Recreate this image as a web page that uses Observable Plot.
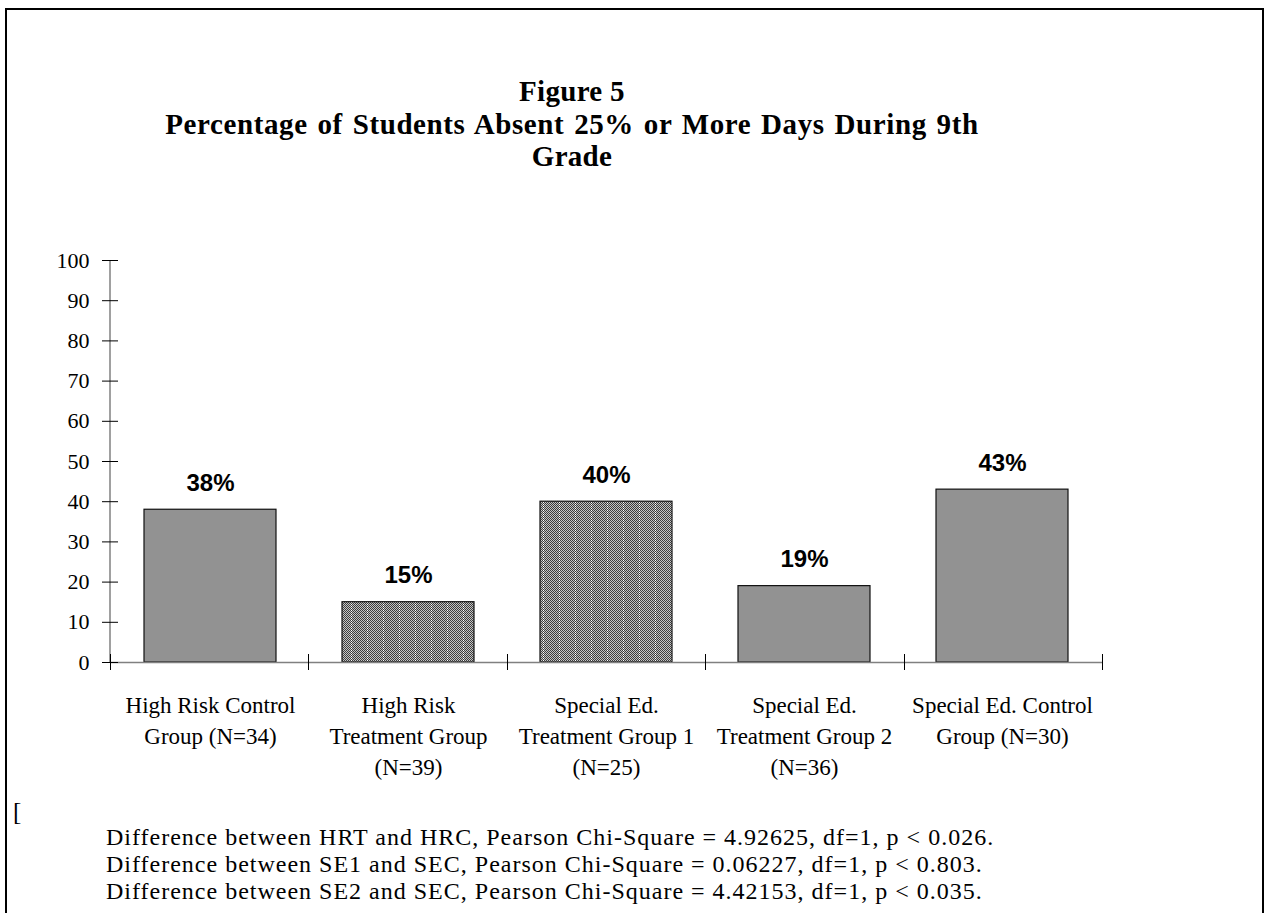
<!DOCTYPE html>
<html>
<head>
<meta charset="utf-8">
<script src="https://cdn.jsdelivr.net/npm/d3@7"></script>
<script src="https://cdn.jsdelivr.net/npm/@observablehq/plot@0.6"></script>
<style>
  html, body { margin: 0; padding: 0; overflow: hidden; background: #fff; }
  #wrap { position: relative; width: 1264px; height: 913px; overflow: hidden; }
  #border { position: absolute; left: 5px; top: 8px; width: 1255px; height: 1000px; border: 2px solid #000; box-sizing: content-box; }
  #chart { position: absolute; left: 0; top: 0; }
</style>
</head>
<body>
<div id="wrap"><div id="border"></div><div id="chart"></div></div>
<script>
// ---- data ----
const categories = ["HRC", "HRT", "SE1", "SE2", "SEC"];
const tickLabels = [
  "High Risk Control\nGroup (N=34)",
  "High Risk\nTreatment Group\n(N=39)",
  "Special Ed.\nTreatment Group 1\n(N=25)",
  "Special Ed.\nTreatment Group 2\n(N=36)",
  "Special Ed. Control\nGroup (N=30)"
];
const percents = [38, 15, 40, 19, 43];
const yTicks = [0, 10, 20, 30, 40, 50, 60, 70, 80, 90, 100];
const titleLines = ["Figure 5", "Percentage of Students Absent 25% or More Days During 9th", "Grade"];
const notes = [
  "Difference between HRT and HRC, Pearson Chi-Square = 4.92625, df=1, p < 0.026.",
  "Difference between SE1 and SEC, Pearson Chi-Square = 0.06227, df=1, p < 0.803.",
  "Difference between SE2 and SEC, Pearson Chi-Square = 4.42153, df=1, p < 0.035."
];

const data = categories.map((c, i) => ({group: c, value: percents[i], label: tickLabels[i]}));
const patternedGroups = new Set(["HRT", "SE1"]);

const serif = "'Liberation Serif', 'Times New Roman', Times, serif";
const sans = "'Liberation Sans', Arial, Helvetica, sans-serif";

// custom axis lines and category boundary ticks
function axisFrame(index, scales, values, dim) {
  const y = scales.y;
  const left = dim.marginLeft, right = dim.width - dim.marginRight;
  const n = categories.length;
  const g = d3.create("svg:g");
  g.append("line").attr("x1", left).attr("x2", left).attr("y1", y(100)).attr("y2", y(0))
    .attr("stroke", "#808080").attr("stroke-width", 1.5);
  for (let i = 0; i <= n; i++) {
    const xx = Math.round(left + i * (right - left) / n) + 0.5;
    g.append("line").attr("x1", xx).attr("x2", xx).attr("y1", y(0) - 8).attr("y2", y(0) + 8)
      .attr("stroke", "#000").attr("stroke-width", 1);
  }
  return g.node();
}

const chart = Plot.plot({
  width: 1264,
  height: 913,
  marginLeft: 110,
  marginRight: 162,
  marginTop: 260,
  marginBottom: 251,
  style: {fontFamily: serif, background: "transparent", color: "#000"},
  x: {domain: categories, paddingInner: 0.335, paddingOuter: 0.1675, axis: null},
  y: {domain: [0, 100], axis: null},
  marks: [
    Plot.barY(data.filter(d => !patternedGroups.has(d.group)), {x: "group", y: "value", fill: "#929292", stroke: "#111", strokeWidth: 1.2}),
    Plot.barY(data.filter(d => patternedGroups.has(d.group)), {x: "group", y: "value", fill: "url(#checker)", stroke: "#111", strokeWidth: 1.2}),
    Plot.ruleY([0], {stroke: "#808080", strokeWidth: 1.5}),
    axisFrame,
    Plot.axisY(yTicks, {tickSize: 16, dx: 8, tickPadding: 13, fontSize: 22, tickFormat: d => String(d), stroke: "#000", label: null, fill: "#000"}),
    Plot.text(data, {x: "group", y: "value", text: d => d.value + "%", dy: -19, lineAnchor: "bottom",
      fontFamily: sans, fontWeight: "bold", fontSize: 24, fill: "#000"}),
    Plot.text(data, {x: "group", text: "label", frameAnchor: "bottom", lineAnchor: "top", dy: 28,
      lineHeight: 1.36, fontSize: 23, fill: "#000"})
  ]
});

// pattern definition
const svg = d3.select(chart);
const defs = svg.insert("defs", ":first-child");
const pat = defs.append("pattern").attr("id", "checker").attr("patternUnits", "userSpaceOnUse")
  .attr("width", 16).attr("height", 2);
pat.append("rect").attr("width", 16).attr("height", 2).attr("fill", "#c4c4c4");
for (let px = 0; px < 16; px++) {
  for (let py = 0; py < 2; py++) {
    if ((px + py) % 2 === 0) {
      pat.append("rect").attr("x", px).attr("y", py).attr("width", 1).attr("height", 1).attr("fill", "#3c3c3c");
    } else if (px === 15) {
      pat.append("rect").attr("x", px).attr("y", py).attr("width", 1).attr("height", 1).attr("fill", "#ffffff");
    }
  }
}

// title
const titleBase = [101, 134, 166];
titleLines.forEach((t, i) => {
  svg.append("text").attr("x", 572).attr("y", titleBase[i]).attr("text-anchor", "middle")
    .attr("font-family", serif).attr("font-weight", "bold").attr("font-size", 29)
    .attr("letter-spacing", i === 1 ? "0.6px" : "0.3px").attr("word-spacing", i === 1 ? "2px" : "0px")
    .attr("fill", "#000").text(t);
});

// stray bracket and notes
svg.append("text").attr("x", 13).attr("y", 820).attr("text-anchor", "start").attr("font-family", serif)
  .attr("font-size", 25).attr("fill", "#000").text("[");
const noteBase = [845, 872, 899];
notes.forEach((t, i) => {
  svg.append("text").attr("x", 106).attr("y", noteBase[i]).attr("text-anchor", "start")
    .attr("font-family", serif).attr("font-size", 24).attr("letter-spacing", "1px").attr("fill", "#000").text(t);
});

document.getElementById("chart").appendChild(chart);
</script>
</body>
</html>
